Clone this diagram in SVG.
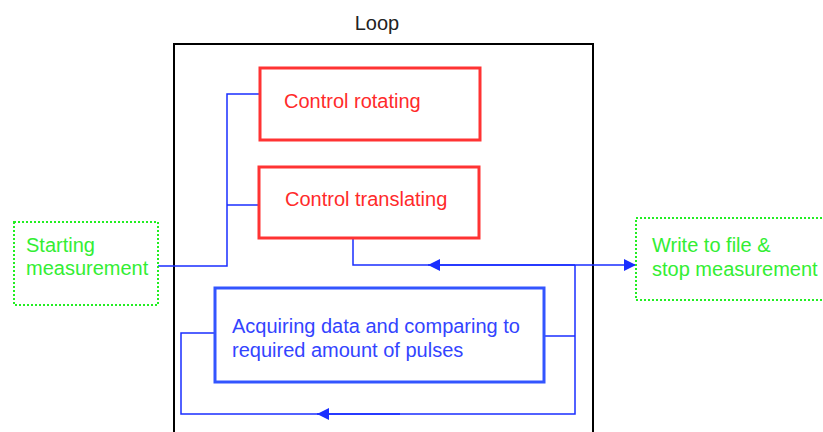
<svg xmlns="http://www.w3.org/2000/svg" width="823" height="432" viewBox="0 0 823 432">
  <style>
    text { font-family: "Liberation Sans", Arial, Helvetica, sans-serif; font-size: 20px; }
    .loop { fill: none; stroke: #000; stroke-width: 2; }
    .loop-label { fill: #222; }
    .red-box { fill: #fff; stroke: #ff3333; stroke-width: 3; }
    .red-text { fill: #ff2a2a; }
    .blue-box { fill: #fff; stroke: #3355ff; stroke-width: 3; }
    .blue-text { fill: #3344ff; }
    .ext-box { fill: #fff; stroke: #22ee22; stroke-width: 2; stroke-dasharray: 2 2; }
    .ext-text { fill: #33ee33; }
    .wire { fill: none; stroke: #1a2eff; stroke-width: 1.5; }
  </style>
  <defs>
    <marker id="arrowhead" viewBox="0 0 12 12" refX="12" refY="6" markerWidth="12" markerHeight="12" markerUnits="userSpaceOnUse" orient="auto">
      <path d="M0,0 L12,6 L0,12 Z" fill="#1a2eff"/>
    </marker>
  </defs>

  <!-- loop frame -->
  <g id="loop">
    <rect class="loop" x="174" y="44" width="419" height="400"/>
    <text class="loop-label" x="377" y="30" text-anchor="middle">Loop</text>
  </g>

  <!-- connectors -->
  <g id="connectors">
    <!-- start to both control blocks -->
    <polyline class="wire" points="158,266 227,266 227,94 260,94"/>
    <line class="wire" x1="227" y1="205" x2="259" y2="205"/>
    <!-- control translating out to the result box -->
    <polyline class="wire" points="353,238 353,265 636,265" marker-end="url(#arrowhead)"/>
    <line class="wire" x1="575" y1="265" x2="428" y2="265" marker-end="url(#arrowhead)"/>
    <!-- acquisition feedback loop -->
    <polyline class="wire" points="544,336 575,336"/>
    <polyline class="wire" points="575,265 575,414 181,414 181,333 215,333"/>
    <line class="wire" x1="400" y1="414" x2="317" y2="414" marker-end="url(#arrowhead)"/>
  </g>

  <g id="start">
    <rect class="ext-box" x="14" y="222" width="144" height="83"/>
    <text class="ext-text" x="26" y="252">Starting</text>
    <text class="ext-text" x="26" y="275">measurement</text>
  </g>

  <g id="control-rotating">
    <rect class="red-box" x="260" y="68" width="220" height="72"/>
    <text class="red-text" x="284" y="108">Control rotating</text>
  </g>

  <g id="control-translating">
    <rect class="red-box" x="259" y="167" width="220" height="71"/>
    <text class="red-text" x="285" y="206">Control translating</text>
  </g>

  <g id="acquire">
    <rect class="blue-box" x="215" y="288" width="329" height="94"/>
    <text class="blue-text" x="232" y="333">Acquiring data and comparing to</text>
    <text class="blue-text" x="232" y="357">required amount of pulses</text>
  </g>

  <g id="write">
    <rect class="ext-box" x="636" y="218" width="200" height="82"/>
    <text class="ext-text" x="652" y="252">Write to file &amp;</text>
    <text class="ext-text" x="652" y="276">stop measurement</text>
  </g>
</svg>
